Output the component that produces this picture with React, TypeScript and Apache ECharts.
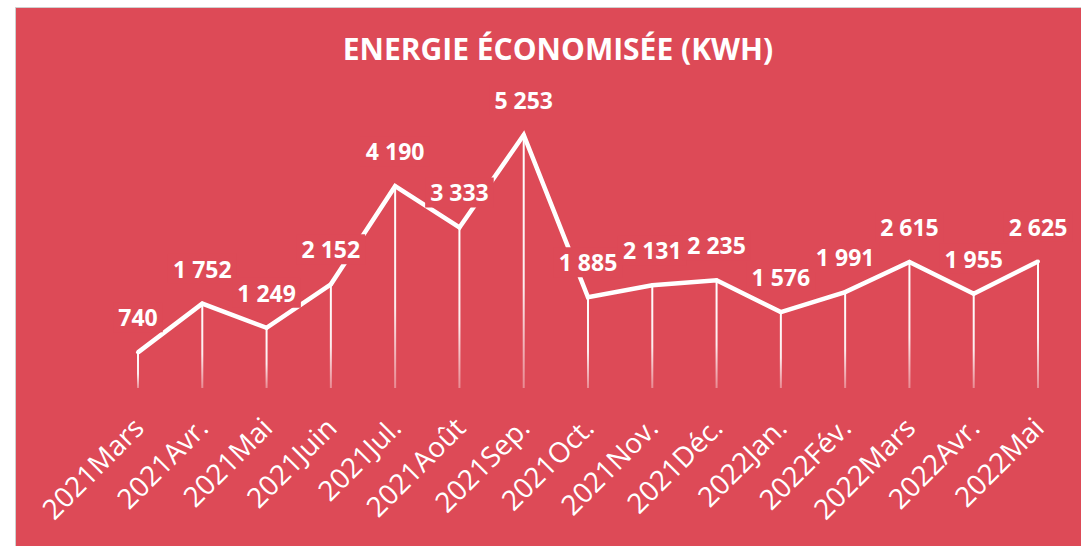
import React, { useEffect, useRef } from "react";
import * as echarts from "echarts";

const categories = [
  "2021Mars", "2021Avr.", "2021Mai", "2021Juin", "2021Jul.", "2021Août", "2021Sep.",
  "2021Oct.", "2021Nov.", "2021Déc.", "2022Jan.", "2022Fév.", "2022Mars", "2022Avr.", "2022Mai",
];
const energySaved = [740, 1752, 1249, 2152, 4190, 3333, 5253, 1885, 2131, 2235, 1576, 1991, 2615, 1955, 2625];
const titleText = "ENERGIE ÉCONOMISÉE (KWH)";

const RED = "#DD4A57";
const fmt = (v: number) => String(v).replace(/\B(?=(\d{3})+(?!\d))/g, " ");

export default function App() {
  const ref = useRef<HTMLDivElement>(null);
  useEffect(() => {
    if (!ref.current) return;
    const chart = echarts.init(ref.current, undefined, { renderer: "svg" });
    chart.setOption({
      animation: false,
      backgroundColor: "#ffffff",
      graphic: [
        {
          type: "rect",
          z: -10,
          shape: { x: 15.5, y: 7.5, width: 1070, height: 545 },
          style: { fill: RED, stroke: "#CFCFCF", lineWidth: 1 },
        },
      ],
      title: {
        text: titleText,
        left: 553,
        top: 28,
        textAlign: "center",
        textStyle: { color: "#ffffff", fontFamily: "Open Sans", fontWeight: "bold", fontSize: 30 },
      },
      grid: { left: 138, right: 43, top: 99, bottom: 158, containLabel: false },
      xAxis: {
        type: "category",
        data: categories,
        boundaryGap: false,
        axisLine: { show: false },
        axisTick: { show: false },
        splitLine: { show: false },
        axisLabel: {
          rotate: 45,
          margin: 34,
          interval: 0,
          color: "#ffffff",
          fontFamily: "Open Sans",
          fontSize: 28,
        },
      },
      yAxis: { type: "value", min: 0, max: 6000, show: false, splitLine: { show: false } },
      series: [
        {
          type: "bar",
          data: energySaved,
          barWidth: 2,
          z: 1,
          silent: true,
          itemStyle: {
            color: new echarts.graphic.LinearGradient(0, 0, 0, 1, [
              { offset: 0, color: "rgba(255,255,255,1)" },
              { offset: 0.6, color: "rgba(255,255,255,0.9)" },
              { offset: 1, color: "rgba(255,255,255,0.35)" },
            ]),
          },
        },
        {
          type: "line",
          data: energySaved,
          z: 3,
          symbol: "circle",
          symbolSize: 4,
          showSymbol: true,
          itemStyle: { color: "#ffffff" },
          lineStyle: { color: "#ffffff", width: 4.5, join: "miter" },
          label: {
            show: true,
            position: "top",
            distance: 18,
            formatter: (p: any) => fmt(p.value),
            color: "#ffffff",
            fontFamily: "Open Sans",
            fontWeight: "bold",
            fontSize: 23,
            lineHeight: 26,
            backgroundColor: RED,
            padding: [2, 5],
          },
        },
      ],
    });
    return () => chart.dispose();
  }, []);
  return <div ref={ref} style={{ position: "fixed", left: 0, top: 0, width: 1081, height: 546 }} />;
}
